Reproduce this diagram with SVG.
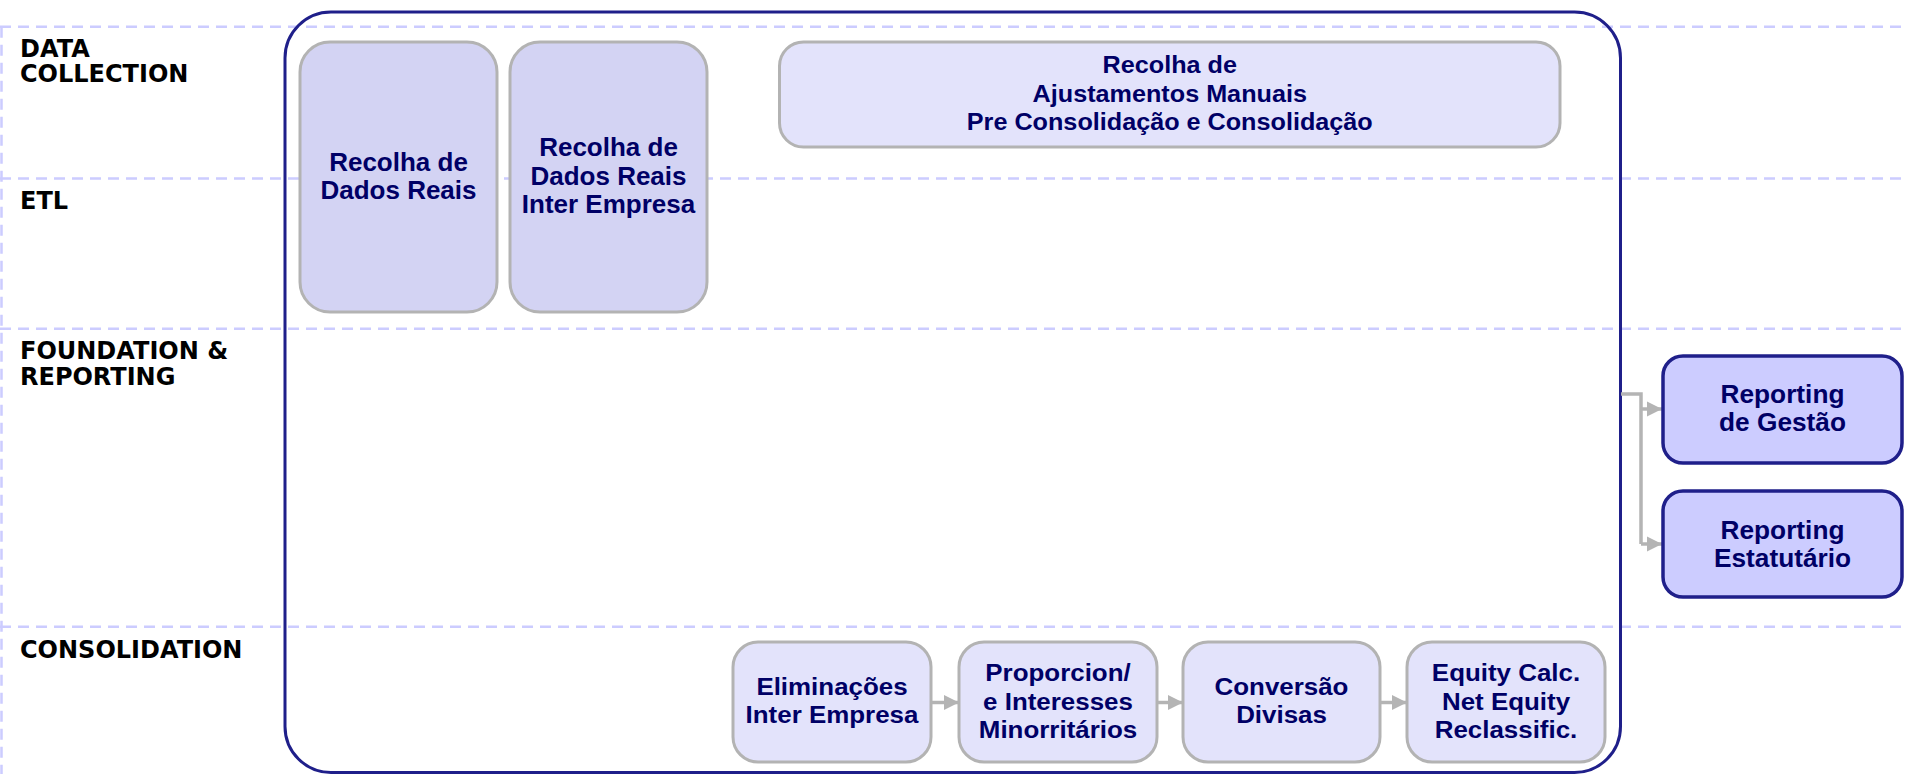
<svg xmlns="http://www.w3.org/2000/svg" width="1905" height="774" viewBox="0 0 1905 774">
<style>
.lane{stroke:#ccccff;stroke-width:2.5;stroke-dasharray:11 7;fill:none}
.lbl{font-family:"DejaVu Sans",Verdana,sans-serif;font-weight:bold;font-size:24px;fill:#000}
.frame{fill:none;stroke:#1f1f8a;stroke-width:3}
.boxA{fill:#d3d3f3;stroke:#b3b3b3;stroke-width:3}
.boxB{fill:#e3e3fb;stroke:#b3b3b3;stroke-width:3}
.boxR{fill:#ccccff;stroke:#1f1f8a;stroke-width:3.5}
.nt{font-family:"Liberation Sans",Arial,sans-serif;font-weight:bold;fill:#000066;text-anchor:middle}
.conn{fill:none;stroke:#b4b4b4;stroke-width:3.5}
</style>
<defs>
<marker id="ah" markerUnits="userSpaceOnUse" markerWidth="16" markerHeight="16" refX="15" refY="8" orient="auto">
<path d="M0,0.5 L15,8 L0,15.5 Z" fill="#b4b4b4"/>
</marker>
</defs>
<rect width="1905" height="774" fill="#fff"/>
<g id="lanes">
<line class="lane" x1="0" y1="26.7" x2="1905" y2="26.7"/>
<line class="lane" x1="0" y1="178.6" x2="1905" y2="178.6"/>
<line class="lane" x1="0" y1="328.7" x2="1905" y2="328.7"/>
<line class="lane" x1="0" y1="626.7" x2="1905" y2="626.7"/>
<line class="lane" x1="1.5" y1="26.7" x2="1.5" y2="774"/>
</g>
<g id="lane-labels">
<text class="lbl" x="20" y="57">DATA</text>
<text class="lbl" x="20" y="82">COLLECTION</text>
<text class="lbl" x="20" y="209">ETL</text>
<text class="lbl" x="20" y="359">FOUNDATION &amp;</text>
<text class="lbl" x="20" y="385">REPORTING</text>
<text class="lbl" x="20" y="658">CONSOLIDATION</text>
</g>
<g id="frame">
<rect class="frame" x="285" y="12" width="1335.5" height="760.5" rx="46" ry="46"/>
</g>
<g id="connectors">
<path class="conn" d="M1621,394 H1641 V544"/>
<path class="conn" d="M1641,409 H1662" marker-end="url(#ah)"/>
<path class="conn" d="M1641,544 H1662" marker-end="url(#ah)"/>
<path class="conn" d="M931,702.5 H959" marker-end="url(#ah)"/>
<path class="conn" d="M1157,702.5 H1183" marker-end="url(#ah)"/>
<path class="conn" d="M1380,702.5 H1407" marker-end="url(#ah)"/>
</g>
<g id="n-recolha-dados-reais">
<rect class="boxA" x="300" y="42" width="197" height="270" rx="30" ry="30"/>
<text class="nt" font-size="26"><tspan x="398.5" y="170.5">Recolha de</tspan><tspan x="398.5" y="199">Dados Reais</tspan></text>
</g>
<g id="n-recolha-inter-empresa">
<rect class="boxA" x="510" y="42" width="197" height="270" rx="30" ry="30"/>
<text class="nt" font-size="26"><tspan x="608.5" y="156">Recolha de</tspan><tspan x="608.5" y="184.5">Dados Reais</tspan><tspan x="608.5" y="213">Inter Empresa</tspan></text>
</g>
<g id="n-ajustamentos">
<rect class="boxB" x="779.5" y="42" width="780.5" height="105" rx="24" ry="24"/>
<text class="nt" font-size="24" transform="translate(1169.75 0) scale(1.05 1)"><tspan x="0" y="73.5">Recolha de</tspan><tspan x="0" y="102">Ajustamentos Manuais</tspan><tspan x="0" y="130.5">Pre Consolidação e Consolidação</tspan></text>
</g>
<g id="n-eliminacoes">
<rect class="boxB" x="733" y="642" width="198" height="120" rx="25" ry="25"/>
<text class="nt" font-size="24" transform="translate(832 0) scale(1.08 1)"><tspan x="0" y="695.5">Eliminações</tspan><tspan x="0" y="723.5">Inter Empresa</tspan></text>
</g>
<g id="n-proporcion">
<rect class="boxB" x="959" y="642" width="198" height="120" rx="25" ry="25"/>
<text class="nt" font-size="24" transform="translate(1058 0) scale(1.08 1)"><tspan x="0" y="681.5">Proporcion/</tspan><tspan x="0" y="710">e Interesses</tspan><tspan x="0" y="738.5">Minorritários</tspan></text>
</g>
<g id="n-conversao">
<rect class="boxB" x="1183" y="642" width="197" height="120" rx="25" ry="25"/>
<text class="nt" font-size="24" transform="translate(1281.5 0) scale(1.08 1)"><tspan x="0" y="695.5">Conversão</tspan><tspan x="0" y="723.5">Divisas</tspan></text>
</g>
<g id="n-equity">
<rect class="boxB" x="1407" y="642" width="198" height="120" rx="25" ry="25"/>
<text class="nt" font-size="24" transform="translate(1506 0) scale(1.08 1)"><tspan x="0" y="681.5">Equity Calc.</tspan><tspan x="0" y="710">Net Equity</tspan><tspan x="0" y="738.5">Reclassific.</tspan></text>
</g>
<g id="n-reporting-gestao">
<rect class="boxR" x="1663" y="356" width="239" height="107" rx="20" ry="20"/>
<text class="nt" font-size="25" transform="translate(1782.5 0) scale(1.05 1)"><tspan x="0" y="403">Reporting</tspan><tspan x="0" y="431">de Gestão</tspan></text>
</g>
<g id="n-reporting-estatutario">
<rect class="boxR" x="1663" y="491" width="239" height="106" rx="20" ry="20"/>
<text class="nt" font-size="25" transform="translate(1782.5 0) scale(1.05 1)"><tspan x="0" y="539">Reporting</tspan><tspan x="0" y="567">Estatutário</tspan></text>
</g>
</svg>
